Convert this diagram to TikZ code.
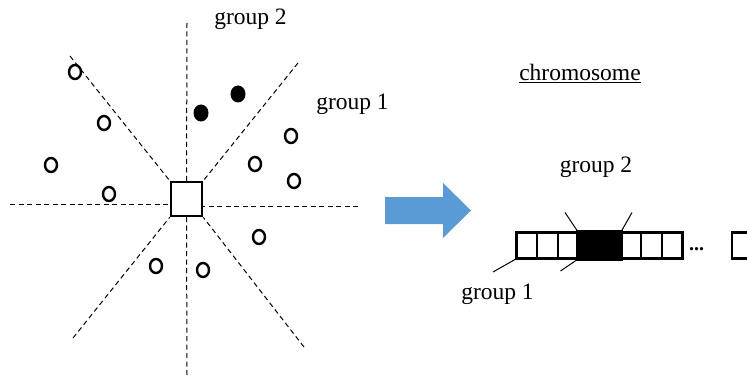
\documentclass[tikz,border=0pt]{standalone}
\usepackage{fontspec}
\setmainfont{Liberation Serif}
\usetikzlibrary{shapes.geometric}
\begin{document}
\begin{tikzpicture}[x=1pt,y=-1pt,
  divider/.style={draw=black,line width=1pt,dash pattern=on 5pt off 3.5pt},
  dot/.style={draw=black,line width=2.4pt,ellipse,inner sep=0pt,minimum width=12pt,minimum height=14pt},
  fdot/.style={fill=black,ellipse,inner sep=0pt,minimum width=15pt,minimum height=17pt},
  label/.style={font=\fontsize{23.5}{28}\selectfont,inner sep=0pt,anchor=base},
  cell/.style={draw=black,line width=2.5pt,minimum width=20.8pt,minimum height=26pt,inner sep=0pt,anchor=north west},
  tick/.style={draw=black,line width=1pt}]
\useasboundingbox (0,0) rectangle (747,377);
\clip (0,0) rectangle (747,377);

% centre individual and the eight sector dividers
\node[draw=black,line width=2.5pt,minimum width=31pt,minimum height=34pt,inner sep=0pt] (c) at (186.5,199) {};
\coordinate (dN) at (187,23);
\coordinate (dS) at (187,375);
\coordinate (dW) at (10,204);
\coordinate (dE) at (358,206);
\coordinate (dNW) at (70,56);
\coordinate (dNE) at (298,63);
\coordinate (dSW) at (73,338);
\coordinate (dSE) at (304,347);
\draw[divider] (dN) -- (c.north);
\draw[divider] (dS) -- (c.south);
\draw[divider] (dW) -- (c.west |- dW);
\draw[divider] (dE) -- (c.east |- dE);
\draw[divider] (dNW) -- (c.north west);
\draw[divider] (dNE) -- (c.north east);
\draw[divider] (dSW) -- (c.south west);
\draw[divider] (dSE) -- (c.south east);

% other individuals
\node[dot] (p1) at (75,72) {};
\node[dot] (p2) at (104,123) {};
\node[dot] (p3) at (51,165) {};
\node[dot] (p4) at (109,194) {};
\node[dot] (p5) at (291,136) {};
\node[dot] (p6) at (255,164) {};
\node[dot] (p7) at (294,181) {};
\node[dot] (p8) at (259,237) {};
\node[dot] (p9) at (156,266) {};
\node[dot] (p10) at (203,270) {};
\node[fdot] (f1) at (201,113) {};
\node[fdot] (f2) at (238,94) {};

\node[label] (g2a) at (250.5,25) {group 2};
\node[label] (g1a) at (352.5,110) {group 1};

% transformation arrow
\fill[fill={rgb,255:red,91;green,155;blue,213}]
  (385,197) -- (443,197) -- (443,183) -- (471,210.5) -- (443,238) -- (443,224) -- (385,224) -- cycle;

% chromosome
\node[label] (chr) at (580,80.5) {\underline{chromosome}};
\foreach \i in {1,...,8} {
  \node[cell] (k\i) at ({515+(\i-1)*20.8},231) {};
}
\fill[black] (k4.north west) rectangle (k5.south east);
\draw[line width=2.5pt] (k4.north west) rectangle (k5.south east);
\draw[line width=2.5pt] (k5.north west) -- (k5.south west);
\node[inner sep=0pt,anchor=base,font=\fontsize{20}{24}\selectfont] (dots) at (696.5,250) {\textbf{...}};
\node[cell] (klast) at (730.5,231) {};

\coordinate (t1) at (565,212.5);
\coordinate (t2) at (632,212.5);
\coordinate (t3) at (493,272);
\coordinate (t4) at (560.5,271);
\draw[tick] (t1) -- (k4.north west);
\draw[tick] (t2) -- (k5.north east);
\draw[tick] (t3) -- (k1.south west);
\draw[tick] (t4) -- (k4.south west);

\node[label] (g2b) at (596,172) {group 2};
\node[label] (g1b) at (497.5,299) {group 1};
\end{tikzpicture}
\end{document}
